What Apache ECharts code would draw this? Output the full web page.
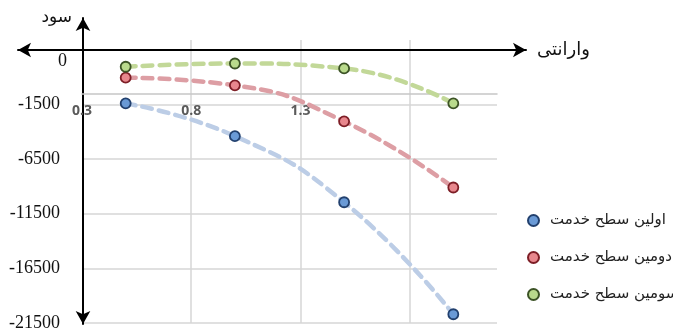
<!DOCTYPE html>
<html><head><meta charset="utf-8">
<script src="https://cdn.jsdelivr.net/npm/echarts@6/dist/echarts.min.js"></script>
<style>html,body{margin:0;padding:0;background:#fff}#c{width:673px;height:332px}</style>
</head><body><div id="c"></div>
<script>
// ---- data ----
const xValues = [0.5, 1.0, 1.5, 2.0];
const firstLevel = [-1400, -4400, -10450, -20700];
const secondLevel = [950, 250, -3050, -9100];
const thirdLevel = [1950, 2250, 1800, -1400];
const seriesNames = ['اولین سطح خدمت', 'دومین سطح خدمت', 'سومین سطح خدمت'];
const yTickValues = [3500, -1500, -6500, -11500, -16500, -21500];
const yTickLabels = ['0', '-1500', '-6500', '-11500', '-16500', '-21500'];
const xLabelValues = [0.3, 0.8, 1.3];
const xGridValues = [0.8, 1.3, 1.8];
const xAxisName = 'وارانتی';
const yAxisName = 'سود';

// ---- styles ----
const lineColors = ['#bccde6', '#dd9ea4', '#c2d898'];
const fillColors = ['#6a9ad6', '#e8878d', '#b9da8c'];
const borderColors = ['#22406e', '#7d1e26', '#3c5326'];
const allValues = [firstLevel, secondLevel, thirdLevel];

const chart = echarts.init(document.getElementById('c'), null, {renderer: 'canvas'});
const serif = 'Liberation Serif';
const arabic = 'DejaVu Sans';

const series = allValues.map((vals, i) => ({
  name: seriesNames[i],
  type: 'line',
  xAxisIndex: 0, yAxisIndex: 0,
  smooth: 0.5,
  symbol: 'circle',
  symbolSize: 10,
  data: xValues.map((x, j) => [x, vals[j]]),
  lineStyle: {color: lineColors[i], width: 4.5, type: [10, 7], cap: 'round'},
  itemStyle: {color: fillColors[i], borderColor: borderColors[i], borderWidth: 1.8},
  z: 3
}));

chart.setOption({
  animation: false,
  backgroundColor: '#fff',
  grid: [
    {left: 82, top: 40, width: 415, height: 283},
    {left: 18, top: 50, width: 508, height: 10},
    {left: 83, top: 18, width: 10, height: 306}
  ],
  xAxis: [
    {
      gridIndex: 0, type: 'value', min: 0.3, max: 2.2, position: 'top', offset: -54,
      axisLine: {show: true, onZero: false, lineStyle: {color: '#c6c6c6', width: 1.5}},
      axisTick: {show: false, customValues: xGridValues},
      axisLabel: {inside: true, margin: 10, customValues: xLabelValues,
        formatter: v => v.toFixed(1), color: '#5a5a5a', fontWeight: 'bold', fontSize: 14, fontFamily: 'Open Sans'},
      splitLine: {show: true, lineStyle: {color: '#d6d6d6', width: 1.5}}
    },
    {
      gridIndex: 1, type: 'value', position: 'top',
      axisLine: {show: true, onZero: false, lineStyle: {color: '#000', width: 2},
        symbol: ['arrow', 'arrow'], symbolSize: [11, 13]},
      axisTick: {show: false}, axisLabel: {show: false}, splitLine: {show: false},
      name: xAxisName, nameLocation: 'end', nameGap: 11,
      nameTextStyle: {fontSize: 18, color: '#111', fontFamily: arabic}
    },
    {gridIndex: 2, type: 'value', show: false}
  ],
  yAxis: [
    {
      gridIndex: 0, type: 'value', min: -21500, max: 4400,
      axisLine: {show: false},
      axisTick: {show: false, customValues: yTickValues.slice(1)},
      axisLabel: {
        customValues: yTickValues, margin: 15,
        formatter: v => {
          const i = yTickValues.indexOf(v);
          const t = i >= 0 ? yTickLabels[i] : '';
          return i === 0 ? '{z|' + t + '}' : '{n|' + t + '}';
        },
        rich: {
          z: {fontSize: 18, fontFamily: serif, color: '#111', padding: [22, 0, 0, 0]},
          n: {fontSize: 18, fontFamily: serif, color: '#111', padding: [0, 7, 0, 0]}
        }
      },
      splitLine: {show: true, lineStyle: {color: '#d6d6d6', width: 1.5}}
    },
    {gridIndex: 1, type: 'value', show: false},
    {
      gridIndex: 2, type: 'value', position: 'left',
      axisLine: {show: true, onZero: false, lineStyle: {color: '#000', width: 2},
        symbol: ['arrow', 'arrow'], symbolSize: [11, 13]},
      axisTick: {show: false}, axisLabel: {show: false}, splitLine: {show: false},
      name: yAxisName, nameLocation: 'end', nameGap: 0,
      nameTextStyle: {fontSize: 17, color: '#111', fontFamily: arabic, align: 'right', verticalAlign: 'middle', padding: [9, 11, 0, 0]}
    }
  ],
  legend: {
    orient: 'vertical', left: 522, top: 208, itemGap: 22,
    icon: 'circle', itemWidth: 11, itemHeight: 11,
    data: seriesNames,
    textStyle: {fontSize: 15, color: '#222', fontFamily: arabic, padding: [0, 0, 0, 6]}
  },
  series: series
});
</script>
</body></html>
